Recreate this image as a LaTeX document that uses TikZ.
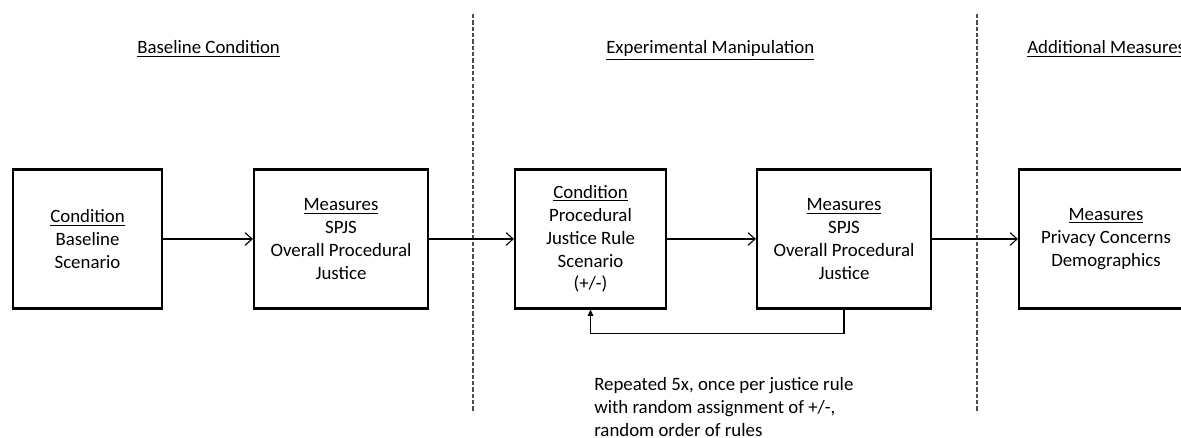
\documentclass[tikz,border=0pt]{standalone}
\usepackage{fontspec}
\setmainfont{Carlito}
\usepackage{tikz}
\usetikzlibrary{arrows.meta,positioning}

\tikzset{
	stagebox/.style={draw, line width=1.5pt, align=center, inner sep=0pt, minimum height=3.475cm},
	flow/.style={line width=0.8pt, -{Straight Barb[length=5pt,width=9pt]}},
	loopback/.style={line width=0.8pt, -{Triangle[length=4.5pt,width=4pt]}},
	phaseline/.style={black!70, line width=0.8pt, dash pattern=on 3pt off 1.5pt},
	heading/.style={anchor=base west, inner sep=0pt}
}

\begin{document}
\begin{tikzpicture}[x=0.025cm, y=-0.025cm, font=\fontsize{13.4pt}{16.2pt}\selectfont]
		%%%%% START %%%%%
		\useasboundingbox (0, 0) rectangle (1181, 438);
		\clip (0, 0) rectangle (1181, 438);
		
		\draw[phaseline] (473, 14) -- (473, 412);
		\draw[phaseline] (977, 14) -- (977, 412);
		
		\node[heading] (baseHead) at (137, 54) {\underline{Baseline Condition}};
		\node[heading] (expHead) at (606, 54) {\underline{Experimental Manipulation}};
		\node[heading] (addHead) at (1027, 54) {\underline{Additional Measures}};
		
		\node[stagebox, minimum width=3.725cm] (baseCond) at (87.5, 239) {\underline{Condition}\\Baseline\\Scenario};
		\node[stagebox, minimum width=4.35cm] (baseMeas) at (341, 239) {\underline{Measures}\\SPJS\\Overall Procedural\\Justice};
		\node[stagebox, minimum width=3.775cm] (ruleCond) at (590.5, 239) {\underline{Condition}\\Procedural\\Justice Rule\\Scenario\\(+/-)};
		\node[stagebox, minimum width=4.35cm] (ruleMeas) at (844, 239) {\underline{Measures}\\SPJS\\Overall Procedural\\Justice};
		\node[stagebox, minimum width=4.35cm] (addMeas) at (1106, 239) {\underline{Measures}\\Privacy Concerns\\Demographics};
		
		\draw[flow] (baseCond) -- (baseMeas);
		\draw[flow] (baseMeas) -- (ruleCond);
		\draw[flow] (ruleCond) -- (ruleMeas);
		\draw[flow] (ruleMeas.east) -- (ruleMeas.east -| addMeas.west);
		
		\draw[loopback] (ruleMeas.south) -- ++(0, 24) -| (ruleCond.south);
		
		\node[anchor=base west, align=left, inner sep=0pt] (repeatNote) at (594, 436) {Repeated 5x, once per justice rule\\with random assignment of +/-,\\random order of rules};
		
		%%%%% END %%%%%
\end{tikzpicture}
\end{document}
